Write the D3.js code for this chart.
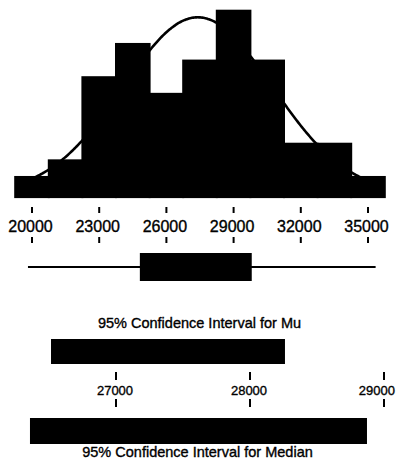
<!DOCTYPE html>
<html>
<head>
<meta charset="utf-8">
<script src="https://cdn.jsdelivr.net/npm/d3@7/dist/d3.min.js"></script>
<style>
  html, body { margin: 0; padding: 0; background: #fff; }
  svg { display: block; }
  text { font-family: "Liberation Sans", Arial, Helvetica, sans-serif; fill: #000; stroke: #000; stroke-width: 0.35px; }
</style>
</head>
<body>
<svg id="chart" width="396" height="469"></svg>
<script>
// Histogram bins (centres) and counts
const binCenters = [20000, 21500, 23000, 24500, 26000, 27500, 29000, 30500, 32000, 33500, 35000];
const binCounts  = [1, 2, 7, 9, 6, 8, 11, 8, 3, 3, 1];
const binWidth = 1500;

// Fitted normal curve parameters
const fitMean = 27400;
const fitSd = 3330;

// Boxplot five-number summary: low whisker, Q1, median, Q3, high whisker
const boxStats = [19820, 24815, 27300, 29810, 35340];

// Confidence intervals
const muCI = [26515, 28261];
const medianCI = [26358, 28873];

// Axis tick values
const topTicks = [20000, 23000, 26000, 29000, 32000, 35000];
const ciTicks = [27000, 28000, 29000];

const W = 396;
const svg = d3.select("#chart");
const total = d3.sum(binCounts);

// Scales
const xTop = d3.scaleLinear().domain([20000, 35000]).range([32, 368]);
const yCount = d3.scaleLinear().domain([0, 11]).range([193.6, 10.7]);
const xCI = d3.scaleLinear().domain([27000, 29000]).range([116, 384]);

// Normal curve (drawn first; bars overlay it)
const curvePts = d3.range(binCenters[0] - binWidth / 2, binCenters[binCenters.length - 1] + binWidth / 2 + 1, 50)
  .map(v => {
    const z = (v - fitMean) / fitSd;
    const dens = Math.exp(-0.5 * z * z) / (fitSd * Math.sqrt(2 * Math.PI));
    return [v, total * binWidth * dens];
  });
svg.append("path")
  .datum(curvePts)
  .attr("fill", "none")
  .attr("stroke", "#000")
  .attr("stroke-width", 2.6)
  .attr("d", d3.line().x(d => xTop(d[0])).y(d => yCount(d[1])).curve(d3.curveBasis));

// Histogram bars
const barBottom = yCount(0) + 3.5;
svg.append("g").selectAll("rect")
  .data(binCenters)
  .join("rect")
  .attr("x", d => xTop(d - binWidth / 2))
  .attr("width", d => xTop(d + binWidth / 2) - xTop(d - binWidth / 2))
  .attr("y", (d, i) => yCount(binCounts[i]))
  .attr("height", (d, i) => barBottom - yCount(binCounts[i]))
  .attr("fill", "#000")
  .attr("stroke", "#000")
  .attr("stroke-width", 2);

// Top value axis: ticks above and below each label
const topAxis = svg.append("g");
topAxis.selectAll("line.up").data(topTicks).join("line")
  .attr("x1", d => xTop(d)).attr("x2", d => xTop(d))
  .attr("y1", 207).attr("y2", 213)
  .attr("stroke", "#000").attr("stroke-width", 2);
topAxis.selectAll("line.dn").data(topTicks).join("line")
  .attr("x1", d => xTop(d)).attr("x2", d => xTop(d))
  .attr("y1", 237).attr("y2", 243)
  .attr("stroke", "#000").attr("stroke-width", 2);
topAxis.selectAll("text").data(topTicks).join("text")
  .attr("x", d => xTop(d) - 1.5)
  .attr("y", 232)
  .attr("text-anchor", "middle")
  .attr("font-size", 16)
  .text(d => d);

// Boxplot
const boxY = 267;
svg.append("line")
  .attr("x1", xTop(boxStats[0])).attr("x2", xTop(boxStats[4]))
  .attr("y1", boxY).attr("y2", boxY)
  .attr("stroke", "#000").attr("stroke-width", 2);
svg.append("rect")
  .attr("x", xTop(boxStats[1]))
  .attr("width", xTop(boxStats[3]) - xTop(boxStats[1]))
  .attr("y", boxY - 14).attr("height", 28)
  .attr("fill", "#000");
svg.append("line")
  .attr("x1", xTop(boxStats[2])).attr("x2", xTop(boxStats[2]))
  .attr("y1", boxY - 14).attr("y2", boxY + 14)
  .attr("stroke", "#000").attr("stroke-width", 1);

// Confidence interval for the mean
svg.append("text")
  .attr("x", 199.5).attr("y", 328)
  .attr("text-anchor", "middle")
  .attr("font-size", 14.5)
  .text("95% Confidence Interval for Mu");
svg.append("rect")
  .attr("x", xCI(muCI[0]))
  .attr("width", xCI(muCI[1]) - xCI(muCI[0]))
  .attr("y", 339).attr("height", 25)
  .attr("fill", "#000");

// CI axis
const ciAxis = svg.append("g");
ciAxis.selectAll("line.up").data(ciTicks).join("line")
  .attr("x1", d => xCI(d)).attr("x2", d => xCI(d))
  .attr("y1", 372).attr("y2", 380)
  .attr("stroke", "#000").attr("stroke-width", 2);
ciAxis.selectAll("line.dn").data(ciTicks).join("line")
  .attr("x1", d => xCI(d)).attr("x2", d => xCI(d))
  .attr("y1", 399).attr("y2", 407)
  .attr("stroke", "#000").attr("stroke-width", 2);
// Labels are centred on their ticks, but kept inside the right edge
ciAxis.selectAll("text").data(ciTicks).join("text")
  .attr("y", 395)
  .attr("font-size", 13)
  .text(d => d)
  .each(function (d) {
    const w = this.getComputedTextLength();
    const x = Math.min(xCI(d) - 1 - w / 2, W - 1 - w);
    d3.select(this).attr("x", x);
  });

// Confidence interval for the median
svg.append("rect")
  .attr("x", xCI(medianCI[0]))
  .attr("width", xCI(medianCI[1]) - xCI(medianCI[0]))
  .attr("y", 418).attr("height", 26)
  .attr("fill", "#000");
svg.append("text")
  .attr("x", 197.5).attr("y", 457)
  .attr("text-anchor", "middle")
  .attr("font-size", 14.5)
  .text("95% Confidence Interval for Median");
</script>
</body>
</html>
